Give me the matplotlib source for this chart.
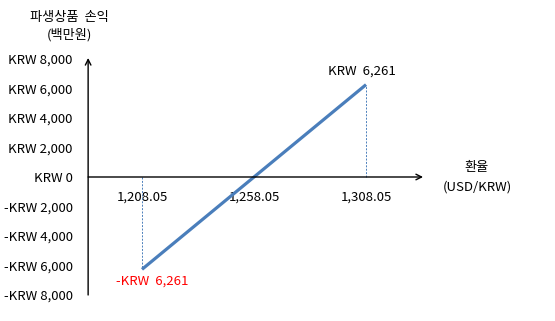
import numpy as np
import matplotlib
matplotlib.use('Agg')
import matplotlib.pyplot as plt

plt.rcParams['font.family'] = ['Noto Sans CJK KR', 'DejaVu Sans']

# dati: tasso di cambio e profitto/perdita (milioni di KRW)
tassi = [1208.05, 1258.05, 1308.05]
profitto = [-6261, 0, 6261]
etichette_x = ['1,208.05', '1,258.05', '1,308.05']
valori_y = [8000, 6000, 4000, 2000, 0, -2000, -4000, -6000, -8000]
etichette_y = ['KRW 8,000', 'KRW 6,000', 'KRW 4,000', 'KRW 2,000', 'KRW 0',
               '-KRW 2,000', '-KRW 4,000', '-KRW 6,000', '-KRW 8,000']

blu = '#4A7EBB'

fig = plt.figure(figsize=(5.55, 3.21), dpi=100)
ax = fig.add_axes([0, 0, 1, 1])
ax.set_xlim(1144.66, 1392.4)
ax.set_ylim(-9763, 12000)

x_asse = 1184  # posizione asse y

# assi con frecce
ax.annotate('', xy=(x_asse, 8070), xytext=(x_asse, -8000),
            arrowprops=dict(arrowstyle='->', color='black', lw=1.0, shrinkA=0, shrinkB=0))
ax.annotate('', xy=(1333.5, 0), xytext=(x_asse, 0),
            arrowprops=dict(arrowstyle='->', color='black', lw=1.0, shrinkA=0, shrinkB=0))

# linee tratteggiate verticali
ax.plot([tassi[0], tassi[0]], [0, profitto[0]], color=blu, lw=0.7, ls=(0, (2, 1.5)))
ax.plot([tassi[2], tassi[2]], [0, profitto[2]], color=blu, lw=0.7, ls=(0, (2, 1.5)))

# linea principale
ax.plot([tassi[0], tassi[2]], [profitto[0], profitto[2]], color=blu, lw=2.3, solid_capstyle='butt')

for s in ax.spines.values():
    s.set_visible(False)
ax.spines['left'].set_position(('data', x_asse))
ax.spines['bottom'].set_position(('data', 0))

ax.set_yticks(valori_y)
ax.set_yticklabels(etichette_y)
ax.set_xticks(tassi)
ax.set_xticklabels(etichette_x)
ax.tick_params(axis='y', length=0, pad=11, labelsize=9.5)
ax.tick_params(axis='x', length=0, pad=10, labelsize=9.5)

# etichette punti estremi
ax.text(tassi[2] - 2, profitto[2] + 500, 'KRW  6,261', ha='center', va='bottom', fontsize=9.5)
ax.text(tassi[0] + 4.5, profitto[0] - 350, '-KRW  6,261', ha='center', va='top', fontsize=9.5, color='red')

# titoli assi
fig.text(69 / 555, 1 - 17 / 321, '파생상품  손익', ha='center', va='center', fontsize=9.5)
fig.text(69 / 555, 1 - 35 / 321, '(백만원)', ha='center', va='center', fontsize=9.5)
fig.text(477 / 555, 1 - 168 / 321, '환율', ha='center', va='center', fontsize=9.5)
fig.text(477 / 555, 1 - 187 / 321, '(USD/KRW)', ha='center', va='center', fontsize=9.5)

fig.savefig('out.png', dpi=100)
